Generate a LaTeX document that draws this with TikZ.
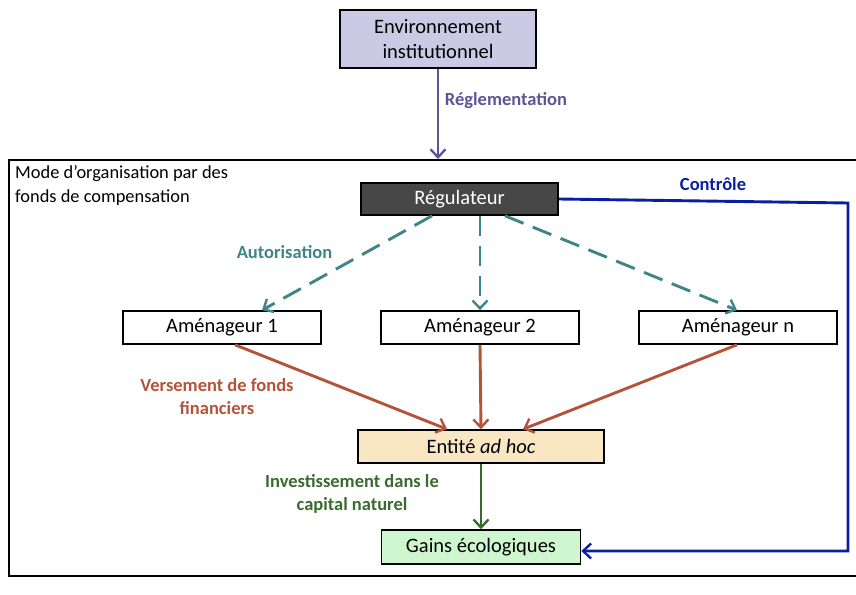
\documentclass[tikz,border=0pt]{standalone}
\usepackage{fontspec}
\setmainfont{Carlito}
\usetikzlibrary{arrows.meta}
\definecolor{envfill}{HTML}{CCC9E5}
\definecolor{regfill}{HTML}{474747}
\definecolor{entfill}{HTML}{F9E6C3}
\definecolor{gainfill}{HTML}{CFF7CF}
\definecolor{cpurple}{HTML}{5E5595}
\definecolor{cteal}{HTML}{3D8588}
\definecolor{cbrown}{HTML}{B4533A}
\definecolor{cgreen}{HTML}{3A6B2E}
\definecolor{cblue}{HTML}{0A1FA0}
\begin{document}
\begin{tikzpicture}[x=1pt,y=-1pt,
  box/.style={draw=black,line width=1.6pt,inner sep=0pt,align=center,
    font=\fontsize{20.5}{24.6}\selectfont},
  lab/.style={font=\bfseries\fontsize{18.5}{23}\selectfont,align=center,inner sep=0pt},
  tip/.style={-{Straight Barb[length=8pt,width=15pt,line width=2.4pt]}},
  conn/.style={line width=2.9pt,tip}
]
\useasboundingbox (0,0) rectangle (856,594);
% frame
\draw[line width=2.4pt] (856,160) -- (9,160) -- (9,576) -- (856,576);
\node[anchor=north west,align=left,inner sep=0pt,font=\fontsize{18.4}{24}\selectfont] (flabel) at (15,165) {Mode d’organisation par des\\fonds de compensation};
% nodes
\node[box,fill=envfill,minimum width=196pt,minimum height=58pt] (env) at (438,39) {Environnement\\institutionnel};
\node[box,fill=regfill,text=white,minimum width=197pt,minimum height=32pt] (reg) at (459.5,199) {Régulateur};
\node[box,minimum width=198pt,minimum height=33pt] (a1) at (222,327.5) {Aménageur 1};
\node[box,minimum width=198pt,minimum height=33pt] (a2) at (480,327.5) {Aménageur 2};
\node[box,minimum width=198pt,minimum height=33pt] (an) at (738,327.5) {Aménageur n};
\node[box,fill=entfill,minimum width=246pt,minimum height=33pt] (ent) at (481,446.5) {Entité \textit{ad hoc}};
\node[box,fill=gainfill,minimum width=199pt,minimum height=34pt] (gain) at (481,547) {Gains écologiques};
\coordinate (ftop) at (438,159);
\coordinate (cr1) at (848,203);
\coordinate (cr2) at (848,551);
% connectors
\draw[conn,cpurple] (env.south) -- (ftop);
\node[lab,text=cpurple] (lreg) at (506,101) {Réglementation};
\draw[conn,cteal,dash pattern=on 20pt off 10pt] ([xshift=-27.5pt]reg.south) -- ([xshift=40pt]a1.north);
\draw[conn,cteal,dash pattern=on 20pt off 10pt] ([xshift=20.5pt]reg.south) -- (a2.north);
\draw[conn,cteal,dash pattern=on 20pt off 10pt] ([xshift=45.5pt]reg.south) -- ([xshift=-1pt]an.north);
\node[lab,text=cteal] (laut) at (284.5,252) {Autorisation};
\draw[conn,cbrown] ([xshift=13pt]a1.south) -- ([xshift=-34pt]ent.north);
\draw[conn,cbrown] (a2.south) -- (ent.north);
\draw[conn,cbrown] ([xshift=-1pt]an.south) -- ([xshift=42pt]ent.north);
\node[lab,text=cbrown] (lver) at (217,396.5) {Versement de fonds\\financiers};
\draw[conn,cgreen] (ent.south) -- (gain.north);
\node[lab,text=cgreen] (linv) at (352,494) {Investissement dans le\\capital naturel};
\draw[line width=2.9pt,cblue,tip,line join=miter] (reg.east) -- (cr1) -- (cr2) -- (gain.east |- cr2);
\node[lab,text=cblue] (lctl) at (713,184) {Contrôle};
\end{tikzpicture}
\end{document}
